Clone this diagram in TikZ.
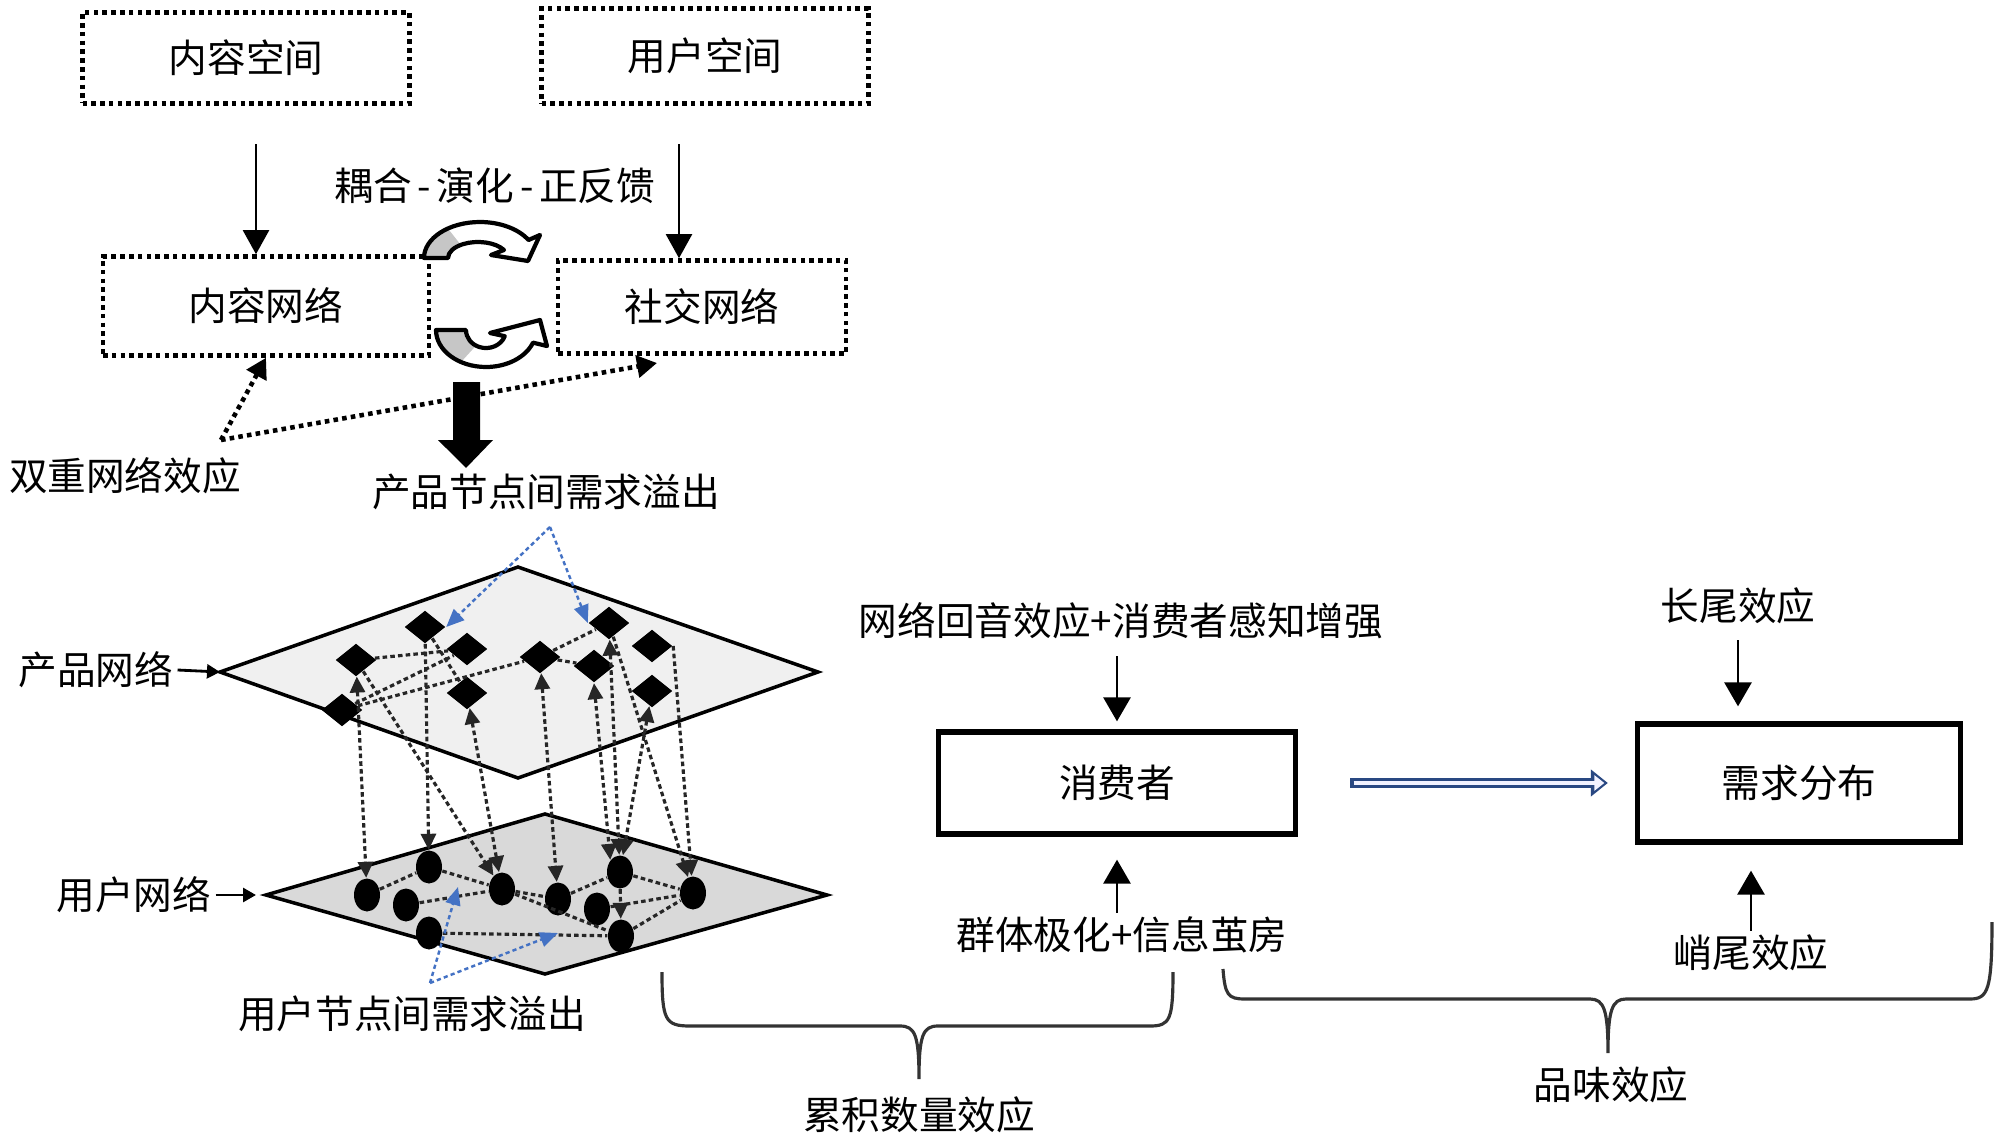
\documentclass[tikz,border=0pt]{standalone}
\usepackage{fontspec}
\newfontfamily\cjk{Noto Sans CJK SC}
\usetikzlibrary{arrows.meta,shapes.geometric}

\definecolor{spillblue}{RGB}{68,114,196}
\definecolor{navy}{RGB}{41,72,130}

\tikzstyle{pnode} = [diamond, fill=black, inner sep=0pt, minimum width=4.1mm, minimum height=3.3mm]
\tikzstyle{unode} = [ellipse, fill=black, inner sep=0pt, minimum width=2.6mm, minimum height=3.3mm]
\tikzstyle{dotbox} = [draw, line width=1.3pt, dash pattern=on 1.3pt off 1.2pt]
\tikzstyle{solidbox} = [draw, line width=1.5pt]
\tikzstyle{txt} = [inner sep=1pt]
\tikzstyle{link} = [black!85, line width=0.9pt, dash pattern=on 1.3pt off 0.9pt]
\tikzstyle{layerarr} = [link, -{Triangle[length=1.6mm,width=1.5mm]}]
\tikzstyle{layerboth} = [link, {Triangle[length=1.6mm,width=1.5mm]}-{Triangle[length=1.6mm,width=1.5mm]}]
\tikzstyle{spill} = [spillblue, line width=0.7pt, dash pattern=on 1.2pt off 0.9pt, -{Triangle[length=1.8mm,width=1.5mm]}]
\tikzstyle{arr} = [line width=0.6pt, -{Triangle[length=2.4mm,width=2.6mm]}]
\tikzstyle{bigarr} = [line width=0.8pt, -{Triangle[length=2.4mm,width=2.7mm]}]
\tikzstyle{tagarr} = [line width=0.8pt, -{Triangle[length=1.3mm,width=1.4mm]}]
\tikzstyle{dotarr} = [line width=1.3pt, dash pattern=on 1.3pt off 1.2pt, -{Triangle[length=2mm,width=2.2mm]}]
\tikzstyle{flowout} = [navy, line width=3pt, shorten <=5.2mm, shorten >=2.7mm, -{Triangle[length=1.7mm,width=2.6mm]}]
\tikzstyle{flowin} = [blue!5, line width=1.1pt, shorten <=5.55mm, shorten >=3.05mm, -{Triangle[length=1.0mm,width=1.5mm]}]
\tikzstyle{bracepath} = [black!80, line width=0.9pt]

\begin{document}
\begin{tikzpicture}[x=0.1mm, y=-0.1mm, font=\cjk\fontsize{11}{13}\selectfont]
  \useasboundingbox (0,0) rectangle (2000,1139);

  \coordinate (pl) at (220,672);
  \coordinate (pt) at (518,567);
  \coordinate (pr) at (818,672);
  \coordinate (pb) at (518,778);
  \coordinate (ul) at (266,895);
  \coordinate (ut) at (545,814);
  \coordinate (ur) at (827,895);
  \coordinate (ub) at (545,974);
  \filldraw[fill=gray!12, line width=1pt] (pl) -- (pt) -- (pr) -- (pb) -- cycle;
  \filldraw[fill=gray!30, line width=1pt] (ul) -- (ut) -- (ur) -- (ub) -- cycle;

  \node[dotbox, minimum width=32.7mm, minimum height=9.1mm] (space1) at (246,58) {内容空间};
  \node[dotbox, minimum width=32.7mm, minimum height=9.5mm] (space2) at (705,56) {用户空间};
  \node[dotbox, minimum width=32.6mm, minimum height=9.9mm] (net1) at (266,306) {内容网络};
  \node[dotbox, minimum width=28.8mm, minimum height=9.3mm] (net2) at (702,307) {社交网络};

  \node[txt] (couple) at (495,186) {耦合\hspace{.15em}-\hspace{.15em}演化\hspace{.15em}-\hspace{.15em}正反馈};
  \node[txt] (dual) at (125,476) {双重网络效应};
  \node[txt] (pspill) at (546,492) {产品节点间需求溢出};
  \node[txt] (uspill) at (412,1014) {用户节点间需求溢出};
  \node[txt] (plab) at (96,670) {产品网络};
  \node[txt] (ulab) at (134,895) {用户网络};

  \node[txt] (echo) at (1121,621) {网络回音效应+消费者感知增强};
  \node[solidbox, minimum width=35.7mm, minimum height=10.2mm] (cons) at (1117,783) {消费者};
  \node[txt] (polar) at (1122,935) {群体极化+信息茧房};
  \node[txt] (longtail) at (1738,606) {长尾效应};
  \node[solidbox, minimum width=32.3mm, minimum height=11.8mm] (dist) at (1799,783) {需求分布};
  \node[txt] (steep) at (1751,953) {峭尾效应};
  \node[txt] (qty) at (919,1115) {累积数量效应};
  \node[txt] (taste) at (1611,1085) {品味效应};

  \node[pnode] (d1) at (425,627) {};
  \node[pnode] (d2) at (356,660) {};
  \node[pnode] (d3) at (467,649) {};
  \node[pnode] (d4) at (467,693) {};
  \node[pnode] (d5) at (342,710) {};
  \node[pnode] (d6) at (540,657) {};
  \node[pnode] (d7) at (609,623) {};
  \node[pnode] (d8) at (594,666) {};
  \node[pnode] (d9) at (652,646) {};
  \node[pnode] (d10) at (652,691) {};

  \node[unode] (u1) at (367,895) {};
  \node[unode] (u2) at (429,867) {};
  \node[unode] (u3) at (406,905) {};
  \node[unode] (u4) at (429,933) {};
  \node[unode] (u5) at (502,889) {};
  \node[unode] (u6) at (558,899) {};
  \node[unode] (u7) at (597,909) {};
  \node[unode] (u8) at (620,872) {};
  \node[unode] (u9) at (621,936) {};
  \node[unode] (u10) at (693,893) {};

  \draw[link] (d2) -- (d3);
  \draw[link] (d1) -- (d4);
  \draw[link] (d5) -- (d3);
  \draw[link] (d5) -- (d6);
  \draw[link] (d6) -- (d7);
  \draw[link] (d6) -- (d8);

  \draw[link] (u1) -- (u2);
  \draw[link] (u2) -- (u5);
  \draw[link] (u3) -- (u5);
  \draw[link] (u4) -- (u9);
  \draw[link] (u5) -- (u6);
  \draw[link] (u5) -- (u9);
  \draw[link] (u6) -- (u8);
  \draw[link] (u8) -- (u10);
  \draw[link] (u7) -- (u10);
  \draw[link] (u9) -- (u10);

  \draw[layerboth] (d2) -- (u1);
  \draw[layerarr] (d1) -- (u2);
  \draw[layerarr] (d2) -- (u5);
  \draw[layerboth] (d4) -- (u5);
  \draw[layerboth] (d6) -- (u6);
  \draw[layerboth] (d8.south) -- (u8.north west);
  \draw[layerboth] (d7) -- (u8);
  \draw[layerboth] (d10) -- (u8);
  \draw[layerarr] (d7) -- (u10);
  \draw[layerarr] (d9.east) -- (u10);
  \draw[layerarr] (u8) -- (u9);

  \coordinate (pa) at (550,527);
  \coordinate (ua) at (430,983);
  \coordinate (ut1) at (458,887);
  \coordinate (ut2) at (558,933);
  \draw[spill] (pa) -- (d1.east);
  \draw[spill] (pa) -- (d7.west);
  \draw[spill] (ua) -- (ut1);
  \draw[spill] (ua) -- (ut2);

  \draw[tagarr] (plab.east) -- (pl);
  \draw[tagarr, shorten >=1mm] (ulab.east) -- (ul);

  \coordinate (s1) at (256,144);
  \coordinate (s2) at (679,144);
  \draw[arr] (s1) -- (s1 |- net1.north);
  \draw[arr] (s2) -- (s2 |- net2.north);

  \coordinate (dn) at (221,440);
  \coordinate (dt) at (657,363);
  \draw[dotarr] (dn) -- (net1.south);
  \draw[dotarr] (dn) -- (dt);

  \fill[white] (424,258) arc[start angle=180, end angle=330, x radius=56, y radius=36] -- (540,235) -- (528,261) -- (491,255) -- (504,250) arc[start angle=330, end angle=180, x radius=30, y radius=16] -- cycle;
  \fill[gray!45] (424,258) arc[start angle=180, end angle=235, x radius=56, y radius=36] -- (460.8,244.9) arc[start angle=235, end angle=180, x radius=30, y radius=16] -- cycle;
  \draw[line width=1.2pt, line join=round] (424,258) arc[start angle=180, end angle=330, x radius=56, y radius=36] -- (540,235) -- (528,261) -- (491,255) -- (504,250) arc[start angle=330, end angle=180, x radius=30, y radius=16] -- cycle;

  \fill[white] (436,330) arc[start angle=180, end angle=20, x radius=50, y radius=37] -- (547,346) -- (540,320) -- (490,333) -- (504.8,336.2) arc[start angle=20, end angle=180, x radius=20, y radius=18] -- cycle;
  \fill[gray!45] (436,330) arc[start angle=180, end angle=120, x radius=50, y radius=37] -- (476,345.6) arc[start angle=120, end angle=180, x radius=20, y radius=18] -- cycle;
  \draw[line width=1.2pt, line join=round] (436,330) arc[start angle=180, end angle=20, x radius=50, y radius=37] -- (547,346) -- (540,320) -- (490,333) -- (504.8,336.2) arc[start angle=20, end angle=180, x radius=20, y radius=18] -- cycle;

  \fill (453,382) -- (480,382) -- (480,440) -- (493,440) -- (466,468) -- (438,440) -- (453,440) -- cycle;

  \draw[bigarr, shorten <=1.3mm, shorten >=0.8mm] (echo.south -| cons.north) -- (cons.north);
  \draw[bigarr, shorten >=2.3mm] (polar.north -| cons.south) -- (cons.south);
  \draw[bigarr, shorten <=1.2mm, shorten >=1.5mm] (longtail.south) -- (longtail.south |- dist.north);
  \draw[bigarr, shorten >=2.6mm] (steep.north) -- (steep.north |- dist.south);
  \draw[flowout] (cons.east) -- (dist.west);
  \draw[flowin] (cons.east) -- (dist.west);

  \draw[bracepath] (662,972) .. controls (662,1020) and (665,1026) .. (690,1026) -- (900,1026) .. controls (915,1026) and (919,1035) .. (919,1079) .. controls (919,1035) and (923,1026) .. (938,1026) -- (1150,1026) .. controls (1170,1026) and (1173,1020) .. (1173,972);
  \draw[bracepath] (1223,969) .. controls (1225,995) and (1228,999) .. (1245,999) -- (1590,999) .. controls (1604,999) and (1608,1010) .. (1608,1053) .. controls (1608,1010) and (1612,999) .. (1626,999) -- (1970,999) .. controls (1988,999) and (1992,990) .. (1992,922);
\end{tikzpicture}
\end{document}
